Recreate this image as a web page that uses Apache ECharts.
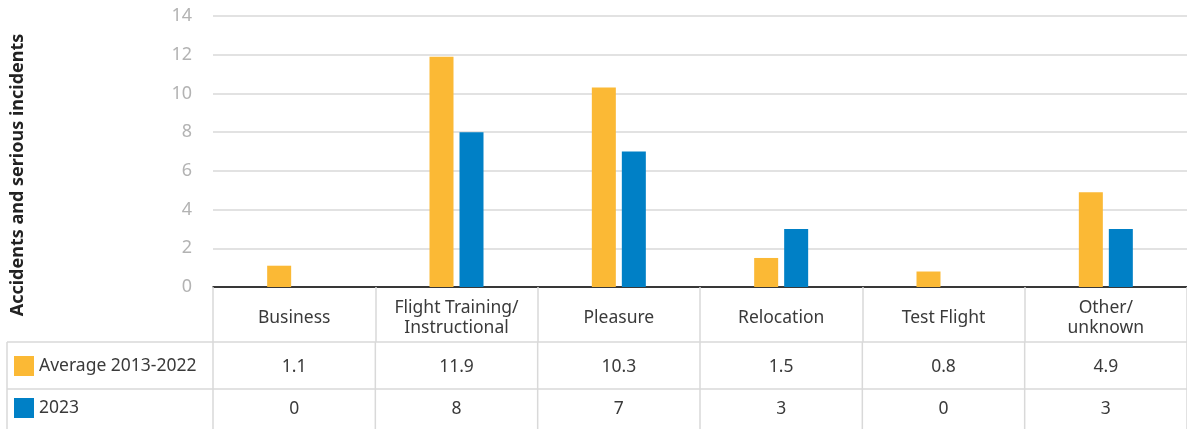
<!DOCTYPE html>
<html>
<head>
<meta charset="utf-8">
<script src="https://cdn.jsdelivr.net/npm/echarts@6/dist/echarts.min.js"></script>
<style>
html,body{margin:0;padding:0;background:#fff;}
#c{width:1187px;height:429px;}
</style>
</head>
<body>
<div id="c"></div>
<script>
const categories = ['Business', 'Flight Training/\nInstructional', 'Pleasure', 'Relocation', 'Test Flight', 'Other/\nunknown'];
const seriesNames = ['Average 2013-2022', '2023'];
const avgValues = [1.1, 11.9, 10.3, 1.5, 0.8, 4.9];
const y2023Values = [0, 8, 7, 3, 0, 3];
const yTicks = [0, 2, 4, 6, 8, 10, 12, 14];

const FONT = 'Noto Sans';
const colors = ['#FBB935', '#0080C6'];
const TXT = '#3a3a3a';

const chart = echarts.init(document.getElementById('c'), null, {renderer: 'canvas'});
const option = {
  animation: false,
  color: colors,
  textStyle: {fontFamily: FONT},
  grid: {left: 213, top: 16, width: 982, height: 271, containLabel: false},
  legend: {
    orient: 'vertical', left: 14, top: 356, padding: 0,
    itemWidth: 20, itemHeight: 20, itemGap: 22,
    icon: 'rect',
    textStyle: {fontSize: 17.5, color: TXT, fontFamily: FONT},
    data: seriesNames
  },
  xAxis: {
    type: 'category',
    data: categories,
    axisLine: {lineStyle: {color: '#000', width: 1.5}},
    axisTick: {show: true, length: 55, lineStyle: {color: '#d9d9d9', width: 1.5}},
    axisLabel: {fontSize: 17.5, color: TXT, margin: 31, verticalAlign: 'middle', lineHeight: 20, fontFamily: FONT, interval: 0}
  },
  yAxis: {
    type: 'value', min: yTicks[0], max: yTicks[yTicks.length - 1], interval: 2,
    axisLine: {show: false}, axisTick: {show: false},
    axisLabel: {fontSize: 18, color: '#b3b3b3', margin: 21, fontFamily: FONT},
    splitLine: {lineStyle: {color: '#d9d9d9', width: 1.5}}
  },
  series: [
    {name: seriesNames[0], type: 'bar', data: avgValues, barWidth: 24, barGap: '25%'},
    {name: seriesNames[1], type: 'bar', data: y2023Values, barWidth: 24}
  ]
};
chart.setOption(option);

// build the data table below the axis
const c0 = chart.convertToPixel({xAxisIndex: 0}, 0);
const c1 = chart.convertToPixel({xAxisIndex: 0}, 1);
const half = (c1 - c0) / 2;
const rowTop = [342, 389];
const rowBottom = 429;
const rowTextY = [367, 409];
const tableLeft = 7;
const tableRight = chart.convertToPixel({xAxisIndex: 0}, categories.length - 1) + half;
const lineStyle = {stroke: '#d9d9d9', lineWidth: 1.5};
const els = [];
rowTop.forEach(y => {
  els.push({type: 'line', shape: {x1: tableLeft, y1: y, x2: tableRight, y2: y}, style: lineStyle, silent: true});
});
els.push({type: 'line', shape: {x1: tableLeft, y1: rowTop[0], x2: tableLeft, y2: rowBottom}, style: lineStyle, silent: true});
for (let i = 0; i <= categories.length; i++) {
  const x = c0 - half + i * 2 * half;
  els.push({type: 'line', shape: {x1: x, y1: rowTop[0], x2: x, y2: rowBottom}, style: lineStyle, silent: true});
}
[avgValues, y2023Values].forEach((vals, r) => {
  vals.forEach((v, i) => {
    const x = chart.convertToPixel({xAxisIndex: 0}, i);
    els.push({type: 'text', x: x, y: rowTextY[r], silent: true,
      style: {text: String(v), fontSize: 17.5, fill: TXT, fontFamily: FONT, align: 'center', verticalAlign: 'middle'}});
  });
});
els.push({type: 'text', x: 18, y: 175, rotation: Math.PI / 2, silent: true,
  style: {text: 'Accidents and serious incidents', fontSize: 18, fontWeight: 'bold', fill: '#222', fontFamily: FONT, align: 'center', verticalAlign: 'middle'}});
chart.setOption({graphic: {elements: els}});
</script>
</body>
</html>
